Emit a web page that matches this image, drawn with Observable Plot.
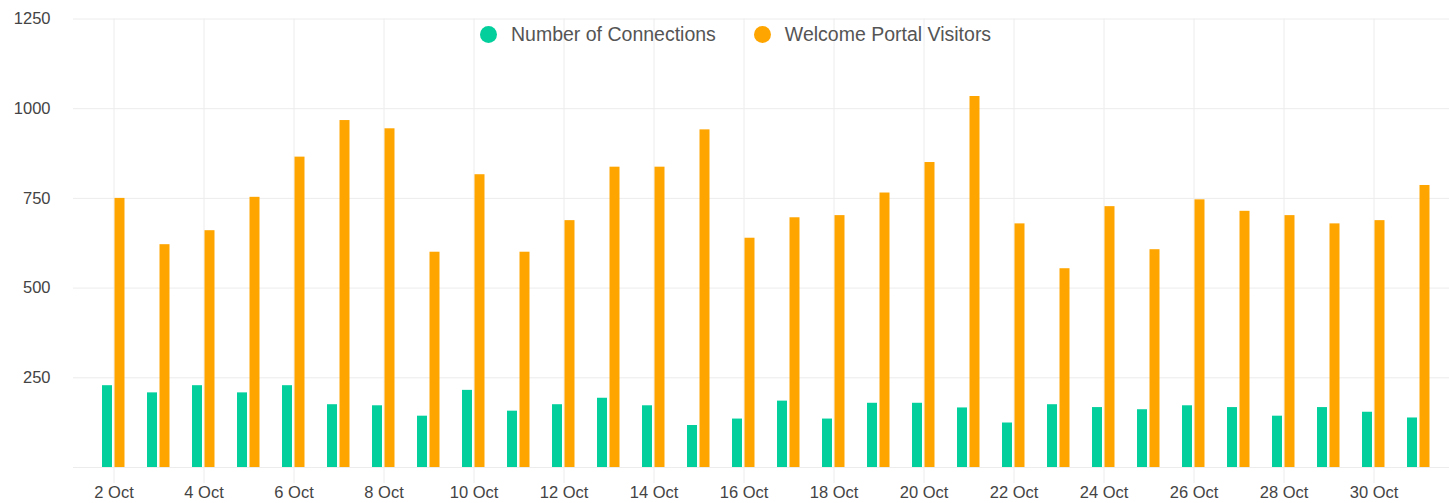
<!DOCTYPE html>
<html><head><meta charset="utf-8">
<script src="https://cdn.jsdelivr.net/npm/d3@7"></script>
<script src="https://cdn.jsdelivr.net/npm/@observablehq/plot@0.6"></script>
<style>
body{margin:0;background:#fff;}
#wrap{position:relative;width:1449px;height:503px;font-family:"Liberation Sans",Arial,sans-serif;}
#legend{position:absolute;left:480px;top:22px;display:flex;align-items:center;font-size:19.5px;line-height:24px;color:#555;white-space:nowrap;}
.item{display:flex;align-items:center;margin-right:38px;}
.sw{width:17px;height:17px;border-radius:50%;display:inline-block;margin-right:14px;}
</style></head>
<body><div id="wrap"></div>
<script>
const days = ["2 Oct","3 Oct","4 Oct","5 Oct","6 Oct","7 Oct","8 Oct","9 Oct","10 Oct","11 Oct",
  "12 Oct","13 Oct","14 Oct","15 Oct","16 Oct","17 Oct","18 Oct","19 Oct","20 Oct","21 Oct",
  "22 Oct","23 Oct","24 Oct","25 Oct","26 Oct","27 Oct","28 Oct","29 Oct","30 Oct","31 Oct"];
const connections = [228,208,228,208,228,175,172,143,215,157,
  175,193,172,117,135,185,135,179,179,166,
  124,175,167,161,172,167,143,167,154,138];
const visitors = [750,621,660,753,865,967,944,600,816,600,
  688,837,837,941,639,696,702,765,850,1034,
  679,554,727,607,746,714,702,679,688,786];
const yTicks = [0,250,500,750,1000,1250];
const yLabelTicks = [250,500,750,1000,1250];
const xTickLabels = days.filter((d,i)=>i%2===0);
const seriesNames = ["Number of Connections","Welcome Portal Visitors"];
const seriesColors = ["#03cf9c","#ffa500"];

const connData = days.map((d,i)=>({day:d, value:connections[i]}));
const visData = days.map((d,i)=>({day:d, value:visitors[i]}));

const chart = Plot.plot({
  width: 1449,
  height: 503,
  marginLeft: 73,
  marginRight: 0,
  marginTop: 18.5,
  marginBottom: 36,
  style: {fontFamily: '"Liberation Sans", Arial, sans-serif', fontSize: "16.5px", background: "#fff"},
  x: {type: "band", domain: days, range: [89.5, 1441.6], padding: 0},
  y: {domain: [0,1250]},
  marks: [
    Plot.gridY(yTicks, {stroke: "#ececec", strokeOpacity: 1}),
    Plot.gridX(xTickLabels, {stroke: "#ececec", strokeOpacity: 1}),
    Plot.axisY(yLabelTicks, {tickSize: 0, tickPadding: 23, fill: "#444", tickFormat: d => String(d), label: null}),
    Plot.axisX(xTickLabels, {tickSize: 16, tickPadding: 3, stroke: "#ececec", fill: "#444", label: null}),
    Plot.barY(connData, {x: "day", y: "value", fill: seriesColors[0], insetLeft: 11, insetRight: 24}),
    Plot.barY(visData, {x: "day", y: "value", fill: seriesColors[1], insetLeft: 23.5, insetRight: 11.5})
  ]
});

const wrap = document.getElementById("wrap");
wrap.appendChild(chart);
const legend = document.createElement("div");
legend.id = "legend";
seriesNames.forEach((name,i)=>{
  const item = document.createElement("div");
  item.className = "item";
  const sw = document.createElement("span");
  sw.className = "sw";
  sw.style.background = seriesColors[i];
  const t = document.createElement("span");
  t.textContent = name;
  item.appendChild(sw); item.appendChild(t);
  legend.appendChild(item);
});
wrap.appendChild(legend);
</script>
</body></html>
